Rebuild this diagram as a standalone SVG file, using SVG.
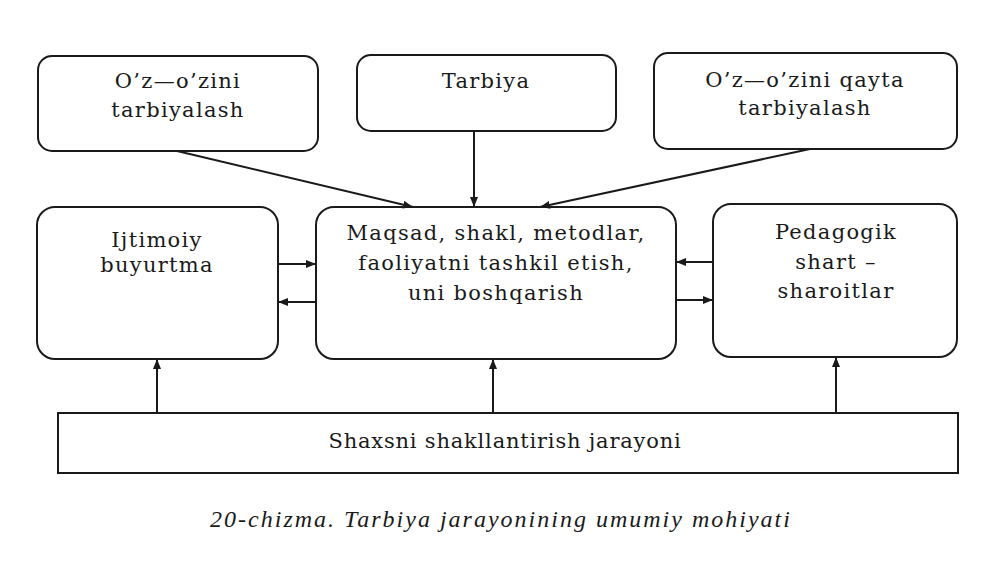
<svg xmlns="http://www.w3.org/2000/svg" width="1000" height="563" viewBox="0 0 1000 563">
<style>
.box{fill:#fff;stroke:#1a1a1a;stroke-width:2}
.t{font-family:"DejaVu Serif","Liberation Serif",serif;font-size:21px;letter-spacing:1.3px;fill:#1a1a1a;text-anchor:middle}
.b{font-family:"DejaVu Serif","Liberation Serif",serif;font-size:21px;letter-spacing:0.8px;fill:#1a1a1a;text-anchor:middle}
.cap{font-family:"Liberation Serif",serif;font-size:24px;letter-spacing:2px;font-style:italic;fill:#1a1a1a;text-anchor:middle}
.c{stroke:#1a1a1a;stroke-width:2;fill:none;marker-end:url(#ah)}
</style>
<defs>
<marker id="ah" viewBox="0 0 10 8" refX="10" refY="4" markerWidth="10" markerHeight="8" markerUnits="userSpaceOnUse" orient="auto">
<path d="M0,0 L10,4 L0,8 Z" fill="#1a1a1a"/>
</marker>
</defs>
<rect width="1000" height="563" fill="#fff"/>
<g id="n1"><rect class="box" x="38" y="56" width="280" height="95" rx="14"/>
<text class="t" x="178" y="88">O’z—o’zini</text><text class="t" x="178" y="117">tarbiyalash</text></g>
<g id="n2"><rect class="box" x="357" y="55" width="259" height="76" rx="14"/>
<text class="t" x="486" y="88">Tarbiya</text></g>
<g id="n3"><rect class="box" x="654" y="53" width="303" height="96" rx="14"/>
<text class="t" x="805" y="87">O’z—o’zini qayta</text><text class="t" x="805" y="115">tarbiyalash</text></g>
<g id="n4"><rect class="box" x="37" y="207" width="241" height="152" rx="18"/>
<text class="t" x="157" y="247">Ijtimoiy</text><text class="t" x="157" y="272">buyurtma</text></g>
<g id="n5"><rect class="box" x="316" y="207" width="360" height="152" rx="18"/>
<text class="t" x="496" y="240">Maqsad, shakl, metodlar,</text><text class="t" x="496" y="270">faoliyatni tashkil etish,</text><text class="t" x="496" y="300">uni boshqarish</text></g>
<g id="n6"><rect class="box" x="713" y="204" width="244" height="153" rx="18"/>
<text class="t" x="836" y="239">Pedagogik</text><text class="t" x="836" y="269">shart –</text><text class="t" x="836" y="298">sharoitlar</text></g>
<g id="n7"><rect class="box" x="58" y="413" width="900" height="60"/>
<text class="b" x="505" y="448">Shaxsni shakllantirish jarayoni</text></g>
<g id="connectors">
<line class="c" x1="177" y1="151" x2="413" y2="207"/>
<line class="c" x1="474" y1="131" x2="474" y2="207"/>
<line class="c" x1="810" y1="149" x2="540" y2="207"/>
<line class="c" x1="278" y1="264" x2="316" y2="264"/>
<line class="c" x1="316" y1="302" x2="278" y2="302"/>
<line class="c" x1="713" y1="262" x2="676" y2="262"/>
<line class="c" x1="676" y1="300" x2="713" y2="300"/>
<line class="c" x1="157" y1="413" x2="157" y2="359"/>
<line class="c" x1="493" y1="413" x2="493" y2="359"/>
<line class="c" x1="836" y1="413" x2="836" y2="357"/>
</g>
<text class="cap" x="501" y="527">20-chizma. Tarbiya jarayonining umumiy mohiyati</text>
</svg>
